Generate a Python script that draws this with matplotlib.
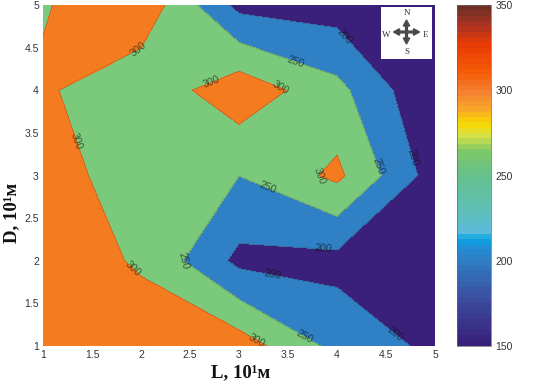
import matplotlib
matplotlib.use('Agg')
import matplotlib.pyplot as plt
from matplotlib.cm import ScalarMappable
from matplotlib.colors import LinearSegmentedColormap, Normalize
from matplotlib.patches import FancyArrow, Rectangle
import numpy as np

plt.rcParams['font.family'] = ['Liberation Sans', 'DejaVu Sans']

L_vals = [1, 2, 3, 4, 5]
D_vals = [1, 2, 3, 4, 5]
# rows go from D=1 to D=5, columns from L=1 to L=5
field_d1 = [320, 309, 326, 235, 188]
field_d2 = [310, 298, 187, 184, 150]
field_d3 = [326, 270, 250.5, 311, 176]
field_d4 = [307, 264, 333, 265, 151]
field_d5 = [296, 337, 185, 176, 150]
field = np.array([field_d1, field_d2, field_d3, field_d4, field_d5])

levels = [150, 200, 250, 300, 350]
band_colors = ['#3a1f7b', '#2f80c4', '#7bc97a', '#f47b20']
tick_vals = [1, 1.5, 2, 2.5, 3, 3.5, 4, 4.5, 5]
tick_labels = ['1', '1.5', '2', '2.5', '3', '3.5', '4', '4.5', '5']
cbar_ticks = [150, 200, 250, 300, 350]

# colorbar stops
cbar_pos = [150, 175, 200, 208, 212, 216, 232, 250, 265, 274, 281, 290, 300, 312, 328, 340, 350]
cbar_cols = ['#38207a', '#3b4a9c', '#2f7fc4', '#1f90d8', '#05a5e4', '#5cbadd', '#5fc0b0',
             '#64c08c', '#80c868', '#d8e244', '#f8d800', '#f8a428', '#f58032', '#f55a05',
             '#e83c04', '#a83222', '#6e3024']

label_spots = {
    200: [(4.08, 4.64), (4.74, 3.2), (3.86, 2.11), (3.34, 1.82), (4.58, 1.13)],
    250: [(3.57, 4.3), (3.3, 2.87), (4.4, 3.1), (2.42, 1.97), (3.67, 1.1)],
    300: [(1.98, 4.47), (2.72, 4.1), (1.32, 3.4), (3.42, 4.01), (3.82, 2.98),
          (1.91, 1.9), (3.2, 1.1)],
}

W, H = 537, 385


def px_rect(left, top, right, bottom):
    return [left / W, 1 - bottom / H, (right - left) / W, (bottom - top) / H]


fig = plt.figure(figsize=(W / 100, H / 100), dpi=100)
ax = fig.add_axes(px_rect(43, 5, 435, 346))

ax.contourf(L_vals, D_vals, field, levels=levels, colors=band_colors)
for lev, spots in label_spots.items():
    # one level at a time, so each label lands on its own contour
    cs = ax.contour(L_vals, D_vals, field, levels=[lev], colors='#444444',
                    linewidths=0.3, alpha=0.6)
    ax.clabel(cs, fmt='%d', manual=spots, fontsize=7.5, colors='#111111', inline=False)

ax.set_xlim(1, 5)
ax.set_ylim(1, 5)
ax.set_xticks(tick_vals, tick_labels)
ax.set_yticks(tick_vals, tick_labels)
ax.tick_params(length=0, labelsize=7.5, colors='#333333', pad=3)
for sp in ax.spines.values():
    sp.set_visible(False)

# compass box
comp = fig.add_axes(px_rect(381, 7, 432, 59))
comp.set_xlim(381, 432)
comp.set_ylim(59, 7)
comp.axis('off')
comp.add_patch(Rectangle((381, 7), 51, 52, fc='white', ec='none'))
cx, cy = 406.5, 32
for dx, dy in ((13, 0), (-13, 0), (0, 12), (0, -12)):
    comp.add_patch(FancyArrow(cx, cy, dx, dy, width=1.8, head_width=6.5, head_length=6,
                              length_includes_head=True, color='#4a4a4a'))
for txt, x, y in (('N', 407.5, 13.5), ('S', 406.5, 52), ('W', 386, 35), ('E', 426, 35)):
    comp.text(x, y, txt, fontsize=6.5, family='Liberation Serif', color='#333333',
              ha='center', va='center')

# colorbar
cax = fig.add_axes(px_rect(457, 5, 491, 346))
stops = [(p - 150) / 200 for p in cbar_pos]
cmap = LinearSegmentedColormap.from_list('bar', list(zip(stops, cbar_cols)), N=64)
cb = fig.colorbar(ScalarMappable(Normalize(150, 350), cmap), cax=cax, ticks=cbar_ticks)
cb.ax.tick_params(length=0, labelsize=7.5, colors='#333333', pad=3)
cb.outline.set_linewidth(0.5)
cb.outline.set_edgecolor('#666666')

fig.text(241 / W, 1 - 373 / H, 'L, 10¹м', family='Liberation Serif', fontweight='bold',
         fontsize=13.5, ha='center', va='center', color='#111111')
fig.text(12 / W, 1 - 213 / H, 'D, 10¹м', family='Liberation Serif', fontweight='bold',
         fontsize=13.5, ha='center', va='center', rotation=90, color='#111111')

fig.savefig('out.png', dpi=100)
plt.close(fig)
